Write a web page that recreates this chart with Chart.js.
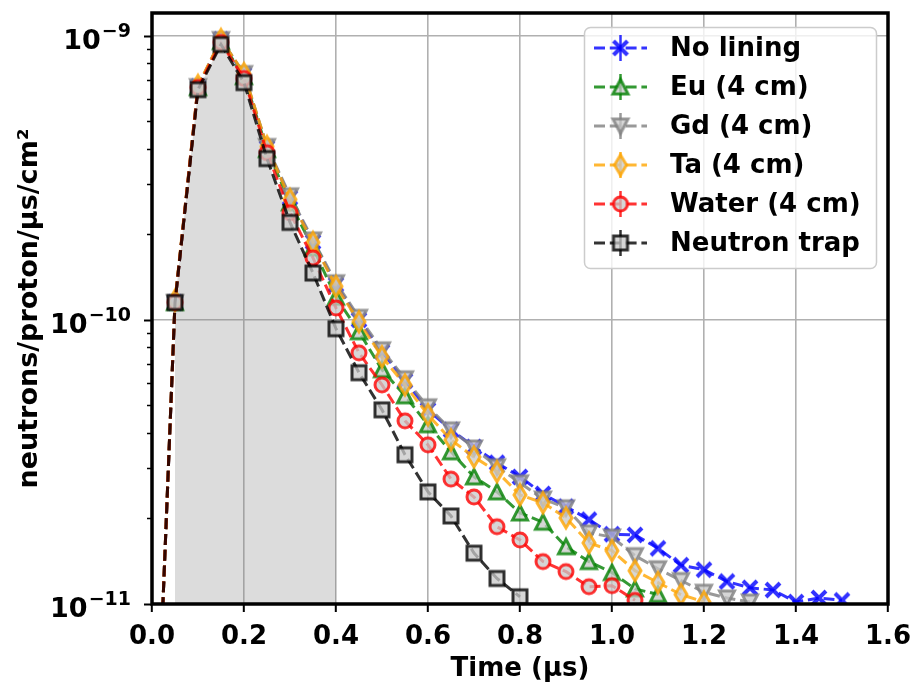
<!DOCTYPE html>
<html>
<head>
<meta charset="utf-8">
<script src="https://cdn.jsdelivr.net/npm/chart.js@4/dist/chart.umd.min.js"></script>
<style>
  html, body { margin: 0; padding: 0; background: #ffffff; }
  canvas { display: block; }
</style>
</head>
<body>
<canvas id="chart" width="913" height="686"></canvas>
<script>
// Time bins (µs)
const times = [0.00, 0.05, 0.10, 0.15, 0.20, 0.25, 0.30, 0.35, 0.40, 0.45, 0.50,
               0.55, 0.60, 0.65, 0.70, 0.75, 0.80, 0.85, 0.90, 0.95, 1.00,
               1.05, 1.10, 1.15, 1.20, 1.25, 1.30, 1.35, 1.40, 1.45, 1.50];

// Flux, neutrons/proton/µs/cm², one value per time bin
const noLining = [1.1e-12, 1.15e-10, 6.61e-10, 9.68e-10, 7.29e-10, 4.03e-10, 2.69e-10, 1.88e-10, 1.33e-10, 1.00e-10, 7.72e-11,
                  6.10e-11, 4.82e-11, 4.10e-11, 3.57e-11, 3.14e-11, 2.80e-11, 2.44e-11, 2.20e-11, 1.98e-11, 1.76e-11,
                  1.75e-11, 1.57e-11, 1.37e-11, 1.32e-11, 1.20e-11, 1.14e-11, 1.12e-11, 1.016e-11, 1.05e-11, 1.03e-11];
const europium = [1.1e-12, 1.15e-10, 6.56e-10, 9.52e-10, 7.17e-10, 3.97e-10, 2.58e-10, 1.79e-10, 1.20e-10, 9.07e-11, 6.67e-11,
                  5.40e-11, 4.27e-11, 3.43e-11, 2.80e-11, 2.48e-11, 2.09e-11, 1.94e-11, 1.59e-11, 1.41e-11, 1.29e-11,
                  1.13e-11, 1.08e-11];
const gadolinium = [1.1e-12, 1.15e-10, 6.61e-10, 9.68e-10, 7.35e-10, 4.07e-10, 2.73e-10, 1.91e-10, 1.35e-10, 1.02e-10, 7.84e-11,
                    6.20e-11, 4.94e-11, 4.10e-11, 3.54e-11, 3.04e-11, 2.67e-11, 2.34e-11, 2.18e-11, 1.78e-11, 1.72e-11,
                    1.48e-11, 1.33e-11, 1.21e-11, 1.10e-11, 1.05e-11, 1.016e-11];
const tantalum = [1.1e-12, 1.17e-10, 6.67e-10, 9.68e-10, 7.35e-10, 4.07e-10, 2.65e-10, 1.87e-10, 1.31e-10, 9.84e-11, 7.41e-11,
                  5.90e-11, 4.63e-11, 3.78e-11, 3.29e-11, 2.92e-11, 2.42e-11, 2.27e-11, 2.01e-11, 1.64e-11, 1.54e-11,
                  1.31e-11, 1.19e-11, 1.08e-11, 1.016e-11];
const water = [1.1e-12, 1.15e-10, 6.56e-10, 9.45e-10, 7.06e-10, 3.87e-10, 2.38e-10, 1.65e-10, 1.10e-10, 7.65e-11, 5.90e-11,
               4.41e-11, 3.63e-11, 2.75e-11, 2.38e-11, 1.87e-11, 1.68e-11, 1.41e-11, 1.30e-11, 1.15e-11, 1.16e-11,
               1.03e-11];
const neutronTrap = [1.1e-12, 1.15e-10, 6.45e-10, 9.30e-10, 6.83e-10, 3.69e-10, 2.20e-10, 1.46e-10, 9.30e-11, 6.51e-11, 4.82e-11,
                     3.35e-11, 2.48e-11, 2.04e-11, 1.51e-11, 1.23e-11, 1.06e-11];

// Shaded window under the neutron-trap curve (µs)
const shadeStart = 0.05;
const shadeEnd = 0.40;

const seriesNames = ['No lining', 'Eu (4 cm)', 'Gd (4 cm)', 'Ta (4 cm)', 'Water (4 cm)', 'Neutron trap'];
const seriesValues = [noLining, europium, gadolinium, tantalum, water, neutronTrap];
const seriesColors = ['rgba(0,0,255,0.8)', 'rgba(0,128,0,0.8)', 'rgba(128,128,128,0.8)',
                      'rgba(255,165,0,0.8)', 'rgba(255,0,0,0.8)', 'rgba(0,0,0,0.8)'];
const seriesMarkers = ['x', 'triUp', 'triDown', 'diamond', 'circle', 'square'];

const xTickValues = [0.0, 0.2, 0.4, 0.6, 0.8, 1.0, 1.2, 1.4, 1.6];
const yDecadeExponents = [-11, -10, -9];

const FONT = '"DejaVu Sans", "Liberation Sans", sans-serif';
const FACE = 'rgba(200,200,200,0.75)';
const DASH = [11, 4.8];
const LINE_W = 3;

function makeMarker(kind, color) {
  const S = 30;
  const cv = document.createElement('canvas');
  cv.width = S; cv.height = S;
  const g = cv.getContext('2d');
  const c = S / 2;
  g.fillStyle = FACE;
  g.strokeStyle = color;
  g.lineWidth = 3;
  g.lineJoin = 'miter';
  g.beginPath();
  switch (kind) {
    case 'x':
      g.lineWidth = 4;
      g.moveTo(c - 7, c - 7); g.lineTo(c + 7, c + 7);
      g.moveTo(c + 7, c - 7); g.lineTo(c - 7, c + 7);
      g.stroke();
      return cv;
    case 'triUp':
      g.moveTo(c, c - 7.5); g.lineTo(c + 7.5, c + 7); g.lineTo(c - 7.5, c + 7); g.closePath();
      break;
    case 'triDown':
      g.moveTo(c, c + 7.5); g.lineTo(c + 7.5, c - 7); g.lineTo(c - 7.5, c - 7); g.closePath();
      break;
    case 'diamond':
      g.moveTo(c, c - 10); g.lineTo(c + 6, c); g.lineTo(c, c + 10); g.lineTo(c - 6, c); g.closePath();
      break;
    case 'circle':
      g.arc(c, c, 7, 0, Math.PI * 2);
      break;
    case 'square':
      g.rect(c - 7, c - 7, 14, 14);
      break;
  }
  g.fill();
  g.stroke();
  return cv;
}

const markerImages = seriesMarkers.map((m, i) => makeMarker(m, seriesColors[i]));

function toPoints(values) {
  return values.map((v, i) => ({ x: times[i], y: v }));
}

const datasets = seriesNames.map((name, i) => ({
  label: name,
  data: toPoints(seriesValues[i]),
  borderColor: seriesColors[i],
  borderWidth: LINE_W,
  borderDash: DASH,
  pointStyle: markerImages[i],
  pointRadius: 9,
  pointHoverRadius: 9,
  fill: false,
  tension: 0,
  clip: 0,
  order: 5 - i
}));

// Grey band under the neutron-trap curve
datasets.push({
  label: 'shade',
  data: toPoints(neutronTrap).filter(p => p.x >= shadeStart - 1e-9 && p.x <= shadeEnd + 1e-9),
  backgroundColor: 'rgba(128,128,128,0.28)',
  borderWidth: 0,
  pointRadius: 0,
  fill: 'start',
  tension: 0,
  clip: 0,
  order: 20
});

function isDecade(v) {
  const l = Math.log10(v);
  return Math.abs(l - Math.round(l)) < 1e-6;
}

const axisDecorations = {
  id: 'axisDecorations',
  afterDatasetsDraw(chart) {
    const { ctx, chartArea: a, scales: { y } } = chart;
    ctx.save();
    ctx.strokeStyle = '#000';
    // y tick marks, major and minor
    for (let e = -12; e <= -9; e++) {
      for (let m = 1; m <= 9; m++) {
        const v = m * Math.pow(10, e);
        if (v < y.min * 0.999 || v > y.max) continue;
        const py = Math.round(y.getPixelForValue(v)) + 0.5;
        const len = m === 1 ? 8 : 5;
        ctx.lineWidth = m === 1 ? 2 : 1.5;
        ctx.beginPath();
        ctx.moveTo(a.left - len, py);
        ctx.lineTo(a.left, py);
        ctx.stroke();
      }
    }
    // y tick labels: 10 with superscript exponent
    ctx.fillStyle = '#000';
    ctx.textBaseline = 'alphabetic';
    ctx.textAlign = 'left';
    const rightEdge = 131;
    yDecadeExponents.forEach(ex => {
      const py = y.getPixelForValue(Math.pow(10, ex));
      const expText = '\u2212' + Math.abs(ex);
      ctx.font = 'bold 19px ' + FONT;
      const we = ctx.measureText(expText).width;
      ctx.font = 'bold 27px ' + FONT;
      const wb = ctx.measureText('10').width;
      const xe = rightEdge - we;
      const xb = xe - wb - 1;
      ctx.fillText('10', xb, py + 13);
      ctx.font = 'bold 19px ' + FONT;
      ctx.fillText(expText, xe, py + 1);
    });
    // axes frame
    ctx.lineWidth = 3.5;
    ctx.strokeRect(a.left, a.top, a.right - a.left, a.bottom - a.top);
    ctx.restore();
  }
};

const legendPanel = {
  id: 'legendPanel',
  afterDraw(chart) {
    const ctx = chart.ctx;
    ctx.save();
    const bx = 584.5, by = 27.5, bw = 292, bh = 241, r = 6;
    ctx.beginPath();
    ctx.moveTo(bx + r, by);
    ctx.arcTo(bx + bw, by, bx + bw, by + bh, r);
    ctx.arcTo(bx + bw, by + bh, bx, by + bh, r);
    ctx.arcTo(bx, by + bh, bx, by, r);
    ctx.arcTo(bx, by, bx + bw, by, r);
    ctx.closePath();
    ctx.fillStyle = 'rgba(255,255,255,0.8)';
    ctx.fill();
    ctx.strokeStyle = '#cccccc';
    ctx.lineWidth = 1.5;
    ctx.stroke();

    seriesNames.forEach((name, i) => {
      const cy = 48 + i * 39;
      const cx = 620.5;
      ctx.strokeStyle = seriesColors[i];
      ctx.lineWidth = LINE_W;
      ctx.setLineDash(DASH);
      ctx.beginPath();
      ctx.moveTo(594, cy);
      ctx.lineTo(647, cy);
      ctx.stroke();
      ctx.setLineDash([]);
      ctx.lineWidth = 2.5;
      ctx.beginPath();
      ctx.moveTo(cx, cy - 13);
      ctx.lineTo(cx, cy + 13);
      ctx.stroke();
      const img = markerImages[i];
      ctx.drawImage(img, cx - img.width / 2, cy - img.height / 2);
      ctx.fillStyle = '#000';
      ctx.font = 'bold 26px ' + FONT;
      ctx.textAlign = 'left';
      ctx.textBaseline = 'middle';
      ctx.fillText(name, 670, cy + 1);
    });
    ctx.restore();
  }
};

new Chart(document.getElementById('chart'), {
  type: 'line',
  data: { datasets },
  plugins: [axisDecorations, legendPanel],
  options: {
    responsive: false,
    devicePixelRatio: 1,
    animation: false,
    events: [],
    layout: { padding: { left: 0, top: 13, right: 25, bottom: 0 } },
    plugins: {
      legend: { display: false },
      tooltip: { enabled: false },
      title: { display: false }
    },
    scales: {
      x: {
        type: 'linear',
        min: 0,
        max: 1.6,
        afterBuildTicks: scale => { scale.ticks = xTickValues.map(v => ({ value: v })); },
        afterFit: scale => { scale.height = 82; scale.paddingLeft = 0; scale.paddingRight = 0; },
        ticks: {
          color: '#000',
          font: { family: FONT, size: 26, weight: 'bold' },
          padding: 10,
          maxRotation: 0,
          callback: v => Number(v).toFixed(1)
        },
        grid: {
          color: '#b0b0b0',
          lineWidth: 1.6,
          drawTicks: true,
          tickLength: 8,
          tickColor: '#000',
          tickWidth: 2
        },
        border: { display: false },
        title: {
          display: true,
          text: 'Time (µs)',
          color: '#000',
          font: { family: FONT, size: 26, weight: 'bold', lineHeight: 1 },
          padding: { top: 0, bottom: 4 }
        }
      },
      y: {
        type: 'logarithmic',
        min: 1e-11,
        max: 1.2e-9,
        afterFit: scale => { scale.width = 152; scale.paddingTop = 0; scale.paddingBottom = 0; },
        ticks: { display: false },
        grid: {
          color: c => (c.tick && isDecade(c.tick.value)) ? '#b0b0b0' : 'rgba(0,0,0,0)',
          lineWidth: 1.6,
          drawTicks: false
        },
        border: { display: false },
        title: {
          display: true,
          text: 'neutrons/proton/µs/cm²',
          color: '#000',
          font: { family: FONT, size: 27, weight: 'bold', lineHeight: 1 },
          padding: { top: 16, bottom: 0 }
        }
      }
    }
  }
});
</script>
</body>
</html>
